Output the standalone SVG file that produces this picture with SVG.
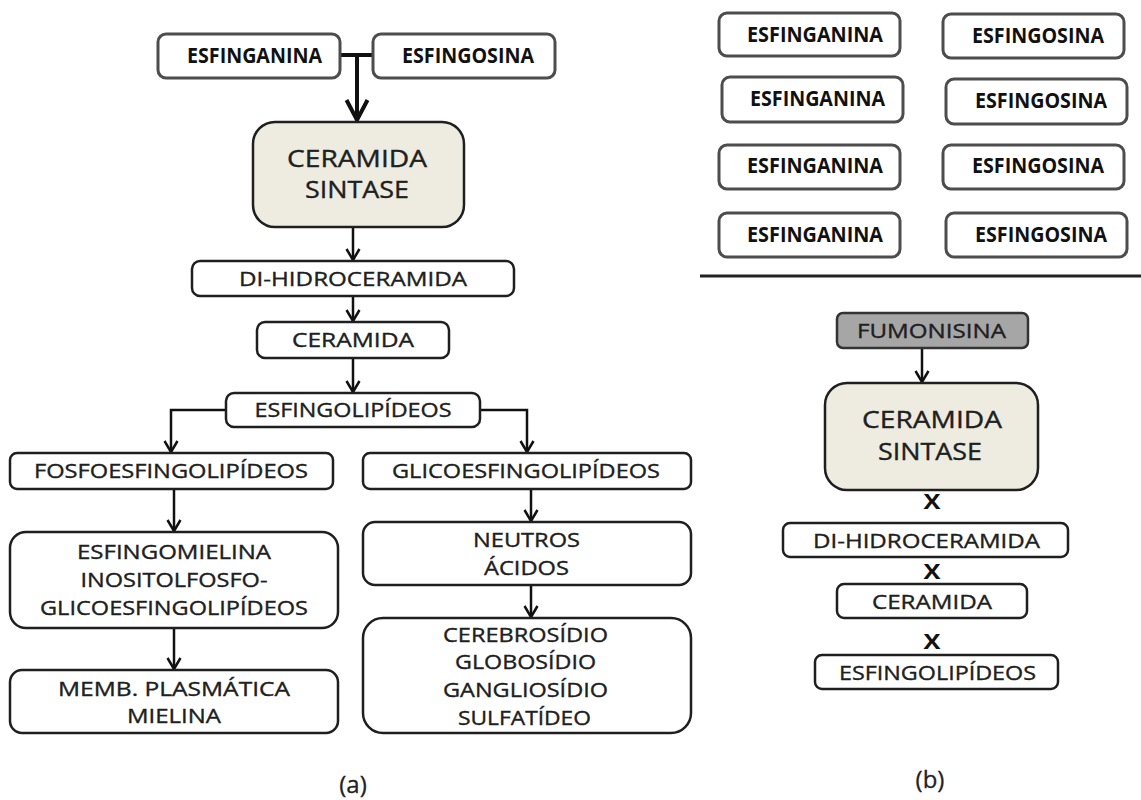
<svg xmlns="http://www.w3.org/2000/svg" width="1141" height="800" viewBox="0 0 1141 800">
<defs>
<style>
text{font-family:"Open Sans","Liberation Sans",sans-serif;fill:#202020;text-anchor:middle}
.t{font-size:20px;stroke:#202020;stroke-width:0.35px}
.big{font-size:23px;stroke:#202020;stroke-width:0.35px}
.b{font-size:21px;font-weight:700;fill:#111}
.x{font-size:22px;font-weight:700;fill:#111}
.lab{font-size:24px;fill:#222;stroke:#222;stroke-width:0.3px}
.src{fill:#fff;stroke:#4d4d4d;stroke-width:3}
.box{fill:#fff;stroke:#1f1f1f;stroke-width:2.5}
.enz{fill:#EEECE1;stroke:#1f1f1f;stroke-width:2.5}
.fum{fill:#A6A6A6;stroke:#333;stroke-width:2.5}
.c{fill:none;stroke:#111;stroke-width:2.5}
.cb{fill:none;stroke:#111;stroke-width:4}
</style>
<marker id="ah" markerUnits="userSpaceOnUse" markerWidth="30" markerHeight="30" refX="0" refY="0" viewBox="-15 -15 30 30" orient="auto" overflow="visible">
<path d="M-11,-6.5 L0,0 L-11,6.5" fill="none" stroke="#111" stroke-width="2.5" stroke-linejoin="miter"/>
</marker>
<marker id="ahb" markerUnits="userSpaceOnUse" markerWidth="40" markerHeight="40" refX="0" refY="0" viewBox="-20 -20 40 40" orient="auto" overflow="visible">
<path d="M-20,-10.5 L0,0 L-20,10.5" fill="none" stroke="#111" stroke-width="4"/>
</marker>
</defs>
<rect width="1141" height="800" fill="#fff"/>

<g id="connectors">
<line class="cb" x1="340" y1="55" x2="373" y2="55"/>
<line class="cb" x1="357" y1="55" x2="357" y2="120" marker-end="url(#ahb)"/>
<line class="c" x1="353" y1="227" x2="353" y2="260" marker-end="url(#ah)"/>
<line class="c" x1="353" y1="296" x2="353" y2="321" marker-end="url(#ah)"/>
<line class="c" x1="353" y1="358" x2="353" y2="392" marker-end="url(#ah)"/>
<polyline class="c" points="226,410 171,410 171,452" marker-end="url(#ah)"/>
<polyline class="c" points="480,410 527,410 527,452" marker-end="url(#ah)"/>
<line class="c" x1="174" y1="489" x2="174" y2="531" marker-end="url(#ah)"/>
<line class="c" x1="174" y1="628" x2="174" y2="669" marker-end="url(#ah)"/>
<line class="c" x1="531" y1="489" x2="531" y2="521" marker-end="url(#ah)"/>
<line class="c" x1="531" y1="585" x2="531" y2="617" marker-end="url(#ah)"/>
<line class="c" x1="922" y1="348" x2="922" y2="382" marker-end="url(#ah)"/>
<line x1="700" y1="276" x2="1141" y2="276" stroke="#222" stroke-width="3"/>
</g>

<g id="a-esfinganina"><rect class="src" x="158" y="34" width="182" height="44" rx="8"/><text class="b" x="254.5" y="63" textLength="135" lengthAdjust="spacingAndGlyphs">ESFINGANINA</text></g>
<g id="a-esfingosina"><rect class="src" x="373" y="34" width="182" height="44" rx="8"/><text class="b" x="468" y="63" textLength="132" lengthAdjust="spacingAndGlyphs">ESFINGOSINA</text></g>
<g id="a-ceramida-sintase"><rect class="enz" x="253" y="122" width="211" height="105" rx="22"/><text class="big" x="357" y="167" textLength="140" lengthAdjust="spacingAndGlyphs">CERAMIDA</text><text class="big" x="357" y="198" textLength="104" lengthAdjust="spacingAndGlyphs">SINTASE</text></g>
<g id="a-dihidroceramida"><rect class="box" x="192" y="261" width="322" height="35" rx="8"/><text class="t" x="353" y="286" textLength="228" lengthAdjust="spacingAndGlyphs">DI-HIDROCERAMIDA</text></g>
<g id="a-ceramida"><rect class="box" x="257" y="322" width="192" height="36" rx="8"/><text class="t" x="353" y="347" textLength="122" lengthAdjust="spacingAndGlyphs">CERAMIDA</text></g>
<g id="a-esfingolipideos"><rect class="box" x="226" y="393" width="254" height="34" rx="8"/><text class="t" x="353" y="417" textLength="197" lengthAdjust="spacingAndGlyphs">ESFINGOLIPÍDEOS</text></g>
<g id="a-fosfo"><rect class="box" x="10" y="453" width="323" height="36" rx="7"/><text class="t" x="171" y="478" textLength="274" lengthAdjust="spacingAndGlyphs">FOSFOESFINGOLIPÍDEOS</text></g>
<g id="a-glico"><rect class="box" x="363" y="453" width="328" height="36" rx="7"/><text class="t" x="526" y="478" textLength="268" lengthAdjust="spacingAndGlyphs">GLICOESFINGOLIPÍDEOS</text></g>
<g id="a-esfingomielina"><rect class="box" x="10" y="532" width="328" height="96" rx="16"/>
<text class="t" x="174" y="559" textLength="194" lengthAdjust="spacingAndGlyphs">ESFINGOMIELINA</text>
<text class="t" x="174" y="587" textLength="187" lengthAdjust="spacingAndGlyphs">INOSITOLFOSFO-</text>
<text class="t" x="174" y="615" textLength="268" lengthAdjust="spacingAndGlyphs">GLICOESFINGOLIPÍDEOS</text></g>
<g id="a-membrana"><rect class="box" x="10" y="670" width="328" height="63" rx="12"/>
<text class="t" x="174" y="696" textLength="232" lengthAdjust="spacingAndGlyphs">MEMB. PLASMÁTICA</text>
<text class="t" x="174" y="723" textLength="94" lengthAdjust="spacingAndGlyphs">MIELINA</text></g>
<g id="a-neutros"><rect class="box" x="363" y="522" width="328" height="63" rx="12"/>
<text class="t" x="526.5" y="547" textLength="107" lengthAdjust="spacingAndGlyphs">NEUTROS</text>
<text class="t" x="526.5" y="575" textLength="85" lengthAdjust="spacingAndGlyphs">ÁCIDOS</text></g>
<g id="a-cerebrosidio"><rect class="box" x="363" y="618" width="328" height="115" rx="20"/>
<text class="t" x="525.5" y="642" textLength="165" lengthAdjust="spacingAndGlyphs">CEREBROSÍDIO</text>
<text class="t" x="525.5" y="669" textLength="141" lengthAdjust="spacingAndGlyphs">GLOBOSÍDIO</text>
<text class="t" x="525.5" y="697" textLength="165" lengthAdjust="spacingAndGlyphs">GANGLIOSÍDIO</text>
<text class="t" x="524.5" y="725" textLength="133" lengthAdjust="spacingAndGlyphs">SULFATÍDEO</text></g>
<text class="lab" x="353" y="793">(a)</text>

<g id="b-esfinganina-1"><rect class="src" x="719" y="13" width="181" height="43" rx="8"/><text class="b" x="815" y="42" textLength="136" lengthAdjust="spacingAndGlyphs">ESFINGANINA</text></g>
<g id="b-esfingosina-1"><rect class="src" x="943" y="14" width="181" height="44" rx="8"/><text class="b" x="1038" y="43" textLength="132" lengthAdjust="spacingAndGlyphs">ESFINGOSINA</text></g>
<g id="b-esfinganina-2"><rect class="src" x="722" y="77" width="181" height="45" rx="8"/><text class="b" x="817.5" y="106" textLength="135" lengthAdjust="spacingAndGlyphs">ESFINGANINA</text></g>
<g id="b-esfingosina-2"><rect class="src" x="946" y="79" width="181" height="45" rx="8"/><text class="b" x="1041" y="108" textLength="132" lengthAdjust="spacingAndGlyphs">ESFINGOSINA</text></g>
<g id="b-esfinganina-3"><rect class="src" x="719" y="145" width="181" height="44" rx="8"/><text class="b" x="815" y="173" textLength="136" lengthAdjust="spacingAndGlyphs">ESFINGANINA</text></g>
<g id="b-esfingosina-3"><rect class="src" x="943" y="145" width="181" height="44" rx="8"/><text class="b" x="1038" y="173" textLength="132" lengthAdjust="spacingAndGlyphs">ESFINGOSINA</text></g>
<g id="b-esfinganina-4"><rect class="src" x="719" y="213" width="181" height="44" rx="8"/><text class="b" x="815" y="242" textLength="136" lengthAdjust="spacingAndGlyphs">ESFINGANINA</text></g>
<g id="b-esfingosina-4"><rect class="src" x="946" y="213" width="181" height="44" rx="8"/><text class="b" x="1041" y="242" textLength="132" lengthAdjust="spacingAndGlyphs">ESFINGOSINA</text></g>

<g id="b-fumonisina"><rect class="fum" x="837" y="313" width="191" height="35" rx="6"/><text class="t" x="931.5" y="338" textLength="149" lengthAdjust="spacingAndGlyphs">FUMONISINA</text></g>
<g id="b-ceramida-sintase"><rect class="enz" x="825" y="383" width="213" height="107" rx="22"/><text class="big" x="932" y="428" textLength="140" lengthAdjust="spacingAndGlyphs">CERAMIDA</text><text class="big" x="930" y="460" textLength="104" lengthAdjust="spacingAndGlyphs">SINTASE</text></g>
<text class="x" x="932" y="509" textLength="17" lengthAdjust="spacingAndGlyphs">X</text>
<g id="b-dihidroceramida"><rect class="box" x="783" y="523" width="285" height="34" rx="7"/><text class="t" x="926.5" y="548" textLength="227" lengthAdjust="spacingAndGlyphs">DI-HIDROCERAMIDA</text></g>
<text class="x" x="932" y="579" textLength="17" lengthAdjust="spacingAndGlyphs">X</text>
<g id="b-ceramida"><rect class="box" x="837" y="584" width="190" height="34" rx="7"/><text class="t" x="932" y="609" textLength="120" lengthAdjust="spacingAndGlyphs">CERAMIDA</text></g>
<text class="x" x="932" y="649" textLength="17" lengthAdjust="spacingAndGlyphs">X</text>
<g id="b-esfingolipideos"><rect class="box" x="815" y="655" width="243" height="34" rx="7"/><text class="t" x="937.5" y="680" textLength="197" lengthAdjust="spacingAndGlyphs">ESFINGOLIPÍDEOS</text></g>
<text class="lab" x="930" y="788">(b)</text>
</svg>
